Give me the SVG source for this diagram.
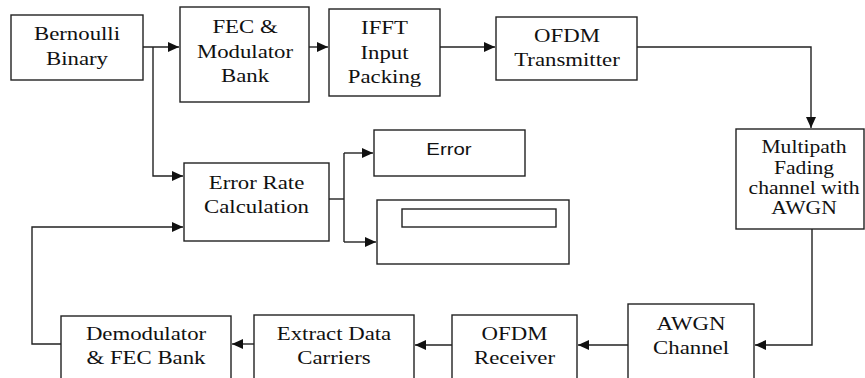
<svg xmlns="http://www.w3.org/2000/svg" width="865" height="378" viewBox="0 0 865 378">
<defs>
<style>
.box{fill:#fff;stroke:#222;stroke-width:1.4}
.ln{fill:none;stroke:#222;stroke-width:1.4}
.t{font-family:"Liberation Serif","DejaVu Serif",serif;font-size:19px;fill:#111;text-anchor:middle}
.ts{font-family:"Liberation Serif","DejaVu Serif",serif;font-size:18px;fill:#111;text-anchor:middle}
.s{font-family:"Liberation Sans","DejaVu Sans",sans-serif;font-size:17px;fill:#111;text-anchor:middle}
</style>
<marker id="ah" markerUnits="userSpaceOnUse" markerWidth="12" markerHeight="10" refX="11" refY="5" orient="auto">
<path d="M0,0 L11,5 L0,10 Z" fill="#111"/>
</marker>
</defs>
<rect width="865" height="378" fill="#fff"/>

<g id="connectors">
<path class="ln" d="M143,47 H179" marker-end="url(#ah)"/>
<path class="ln" d="M153,47 V176 H183" marker-end="url(#ah)"/>
<path class="ln" d="M309,47 H328" marker-end="url(#ah)"/>
<path class="ln" d="M440,47 H495" marker-end="url(#ah)"/>
<path class="ln" d="M637,47 H811 V128" marker-end="url(#ah)"/>
<path class="ln" d="M812,229 V345 H755" marker-end="url(#ah)"/>
<path class="ln" d="M628,345 H578" marker-end="url(#ah)"/>
<path class="ln" d="M452,345 H415" marker-end="url(#ah)"/>
<path class="ln" d="M254,344 H232" marker-end="url(#ah)"/>
<path class="ln" d="M61,344 H32 V227 H183" marker-end="url(#ah)"/>
<path class="ln" d="M329,199 H344"/>
<path class="ln" d="M344,153 V242"/>
<path class="ln" d="M344,153 H373" marker-end="url(#ah)"/>
<path class="ln" d="M344,242 H376" marker-end="url(#ah)"/>
</g>

<g id="bernoulli">
<rect class="box" x="11" y="15" width="132" height="65"/>
<text class="t" font-family="Liberation Serif, serif" transform="translate(77 0) scale(1.2 1)"><tspan x="0" y="40">Bernoulli</tspan><tspan x="0" y="65">Binary</tspan></text>
</g>
<g id="fec">
<rect class="box" x="180" y="7" width="129" height="95"/>
<text class="t" transform="translate(245 0) scale(1.2 1)"><tspan x="0" y="33">FEC &amp;</tspan><tspan x="0" y="58">Modulator</tspan><tspan x="0" y="82">Bank</tspan></text>
</g>
<g id="ifft">
<rect class="box" x="329" y="9" width="111" height="87"/>
<text class="t" transform="translate(384.5 0) scale(1.2 1)"><tspan x="0" y="34">IFFT</tspan><tspan x="0" y="59">Input</tspan><tspan x="0" y="83">Packing</tspan></text>
</g>
<g id="ofdm-tx">
<rect class="box" x="496" y="17" width="141" height="63"/>
<text class="t" transform="translate(567 0) scale(1.2 1)"><tspan x="0" y="42">OFDM</tspan><tspan x="0" y="66">Transmitter</tspan></text>
</g>
<g id="multipath">
<rect class="box" x="736" y="129" width="128" height="100"/>
<text class="ts" transform="translate(804 0) scale(1.2 1)"><tspan x="0" y="153">Multipath</tspan><tspan x="0" y="174">Fading</tspan><tspan x="0" y="194">channel with</tspan><tspan x="0" y="214">AWGN</tspan></text>
</g>
<g id="awgn">
<rect class="box" x="628" y="304" width="126" height="80"/>
<text class="t" transform="translate(691 0) scale(1.2 1)"><tspan x="0" y="330">AWGN</tspan><tspan x="0" y="354">Channel</tspan></text>
</g>
<g id="ofdm-rx">
<rect class="box" x="452" y="315" width="125" height="70"/>
<text class="t" transform="translate(514.5 0) scale(1.2 1)"><tspan x="0" y="340">OFDM</tspan><tspan x="0" y="364">Receiver</tspan></text>
</g>
<g id="extract">
<rect class="box" x="254" y="315" width="160" height="70"/>
<text class="t" transform="translate(334 0) scale(1.2 1)"><tspan x="0" y="340">Extract Data</tspan><tspan x="0" y="364">Carriers</tspan></text>
</g>
<g id="demod">
<rect class="box" x="61" y="316" width="170" height="70"/>
<text class="t" transform="translate(146 0) scale(1.2 1)"><tspan x="0" y="340">Demodulator</tspan><tspan x="0" y="364">&amp; FEC Bank</tspan></text>
</g>
<g id="error-rate">
<rect class="box" x="184" y="163" width="145" height="78"/>
<text class="t" transform="translate(256.5 0) scale(1.2 1)"><tspan x="0" y="189">Error Rate</tspan><tspan x="0" y="213">Calculation</tspan></text>
</g>
<g id="error">
<rect class="box" x="374" y="130" width="151" height="46"/>
<text class="s" transform="translate(449 0) scale(1.2 1)"><tspan x="0" y="155">Error</tspan></text>
</g>
<g id="display">
<rect class="box" x="377" y="200" width="192" height="64"/>
<rect class="box" x="402" y="209" width="154" height="18"/>
</g>
</svg>
